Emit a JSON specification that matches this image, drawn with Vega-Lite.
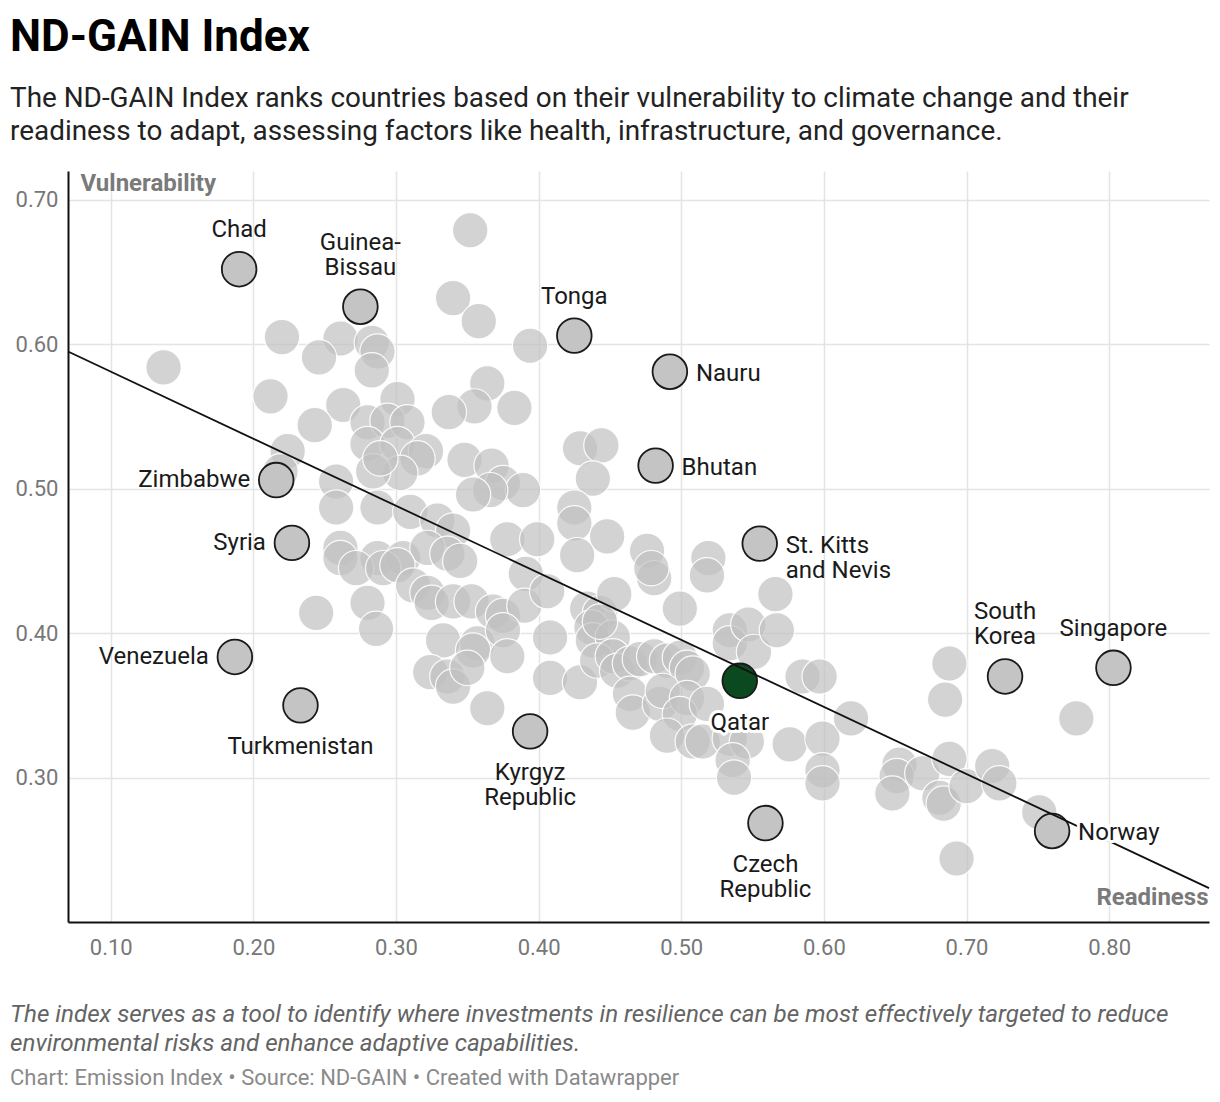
{
  "$schema": "https://vega.github.io/schema/vega-lite/v6.json",
  "padding": {"left": 10, "top": 15, "right": 10, "bottom": 5},
  "background": "white",
  "config": {
    "font": "Roboto",
    "view": {"stroke": null}
  },
  "title": {
    "text": "ND-GAIN Index",
    "subtitle": ["The ND-GAIN Index ranks countries based on their vulnerability to climate change and their", "readiness to adapt, assessing factors like health, infrastructure, and governance."],
    "anchor": "start",
    "font": "Roboto",
    "fontSize": 44,
    "fontWeight": "bold",
    "color": "#000000",
    "subtitleFont": "Roboto",
    "subtitleFontSize": 27.9,
    "subtitleColor": "#222222",
    "subtitleLineHeight": 33.5,
    "subtitlePadding": 25,
    "offset": 25
  },
  "datasets": {
    "points": [
      {"country": "Chad", "label": "Chad", "readiness": 0.190, "vulnerability": 0.652},
      {"country": "Guinea-Bissau", "label": "Guinea-|Bissau", "readiness": 0.275, "vulnerability": 0.626},
      {"country": "Tonga", "label": "Tonga", "readiness": 0.425, "vulnerability": 0.606},
      {"country": "Nauru", "label": "Nauru", "readiness": 0.492, "vulnerability": 0.581},
      {"country": "Bhutan", "label": "Bhutan", "readiness": 0.482, "vulnerability": 0.516},
      {"country": "Zimbabwe", "label": "Zimbabwe", "readiness": 0.216, "vulnerability": 0.506},
      {"country": "Syria", "label": "Syria", "readiness": 0.227, "vulnerability": 0.4625},
      {"country": "St. Kitts and Nevis", "label": "St. Kitts|and Nevis", "readiness": 0.555, "vulnerability": 0.462},
      {"country": "Venezuela", "label": "Venezuela", "readiness": 0.187, "vulnerability": 0.3835},
      {"country": "Turkmenistan", "label": "Turkmenistan", "readiness": 0.233, "vulnerability": 0.350},
      {"country": "Kyrgyz Republic", "label": "Kyrgyz|Republic", "readiness": 0.394, "vulnerability": 0.332},
      {"country": "Qatar", "label": "Qatar", "readiness": 0.541, "vulnerability": 0.367},
      {"country": "South Korea", "label": "South|Korea", "readiness": 0.727, "vulnerability": 0.370},
      {"country": "Singapore", "label": "Singapore", "readiness": 0.803, "vulnerability": 0.376},
      {"country": "Czech Republic", "label": "Czech|Republic", "readiness": 0.559, "vulnerability": 0.2685},
      {"country": "Norway", "label": "Norway", "readiness": 0.760, "vulnerability": 0.263},
      {"readiness": 0.137, "vulnerability": 0.584},
      {"readiness": 0.220, "vulnerability": 0.605},
      {"readiness": 0.261, "vulnerability": 0.604},
      {"readiness": 0.246, "vulnerability": 0.591},
      {"readiness": 0.283, "vulnerability": 0.601},
      {"readiness": 0.287, "vulnerability": 0.595},
      {"readiness": 0.283, "vulnerability": 0.582},
      {"readiness": 0.340, "vulnerability": 0.632},
      {"readiness": 0.352, "vulnerability": 0.679},
      {"readiness": 0.358, "vulnerability": 0.616},
      {"readiness": 0.394, "vulnerability": 0.599},
      {"readiness": 0.212, "vulnerability": 0.564},
      {"readiness": 0.364, "vulnerability": 0.573},
      {"readiness": 0.263, "vulnerability": 0.558},
      {"readiness": 0.301, "vulnerability": 0.562},
      {"readiness": 0.355, "vulnerability": 0.557},
      {"readiness": 0.337, "vulnerability": 0.553},
      {"readiness": 0.383, "vulnerability": 0.556},
      {"readiness": 0.243, "vulnerability": 0.544},
      {"readiness": 0.280, "vulnerability": 0.546},
      {"readiness": 0.294, "vulnerability": 0.547},
      {"readiness": 0.308, "vulnerability": 0.546},
      {"readiness": 0.280, "vulnerability": 0.531},
      {"readiness": 0.301, "vulnerability": 0.531},
      {"readiness": 0.321, "vulnerability": 0.526},
      {"readiness": 0.315, "vulnerability": 0.521},
      {"readiness": 0.224, "vulnerability": 0.526},
      {"readiness": 0.348, "vulnerability": 0.520},
      {"readiness": 0.367, "vulnerability": 0.516},
      {"readiness": 0.375, "vulnerability": 0.504},
      {"readiness": 0.389, "vulnerability": 0.499},
      {"readiness": 0.366, "vulnerability": 0.499},
      {"readiness": 0.354, "vulnerability": 0.496},
      {"readiness": 0.303, "vulnerability": 0.511},
      {"readiness": 0.284, "vulnerability": 0.512},
      {"readiness": 0.258, "vulnerability": 0.505},
      {"readiness": 0.429, "vulnerability": 0.528},
      {"readiness": 0.444, "vulnerability": 0.530},
      {"readiness": 0.438, "vulnerability": 0.507},
      {"readiness": 0.219, "vulnerability": 0.512},
      {"readiness": 0.289, "vulnerability": 0.521},
      {"readiness": 0.258, "vulnerability": 0.487},
      {"readiness": 0.287, "vulnerability": 0.487},
      {"readiness": 0.310, "vulnerability": 0.484},
      {"readiness": 0.329, "vulnerability": 0.478},
      {"readiness": 0.340, "vulnerability": 0.471},
      {"readiness": 0.378, "vulnerability": 0.465},
      {"readiness": 0.399, "vulnerability": 0.465},
      {"readiness": 0.261, "vulnerability": 0.459},
      {"readiness": 0.261, "vulnerability": 0.452},
      {"readiness": 0.287, "vulnerability": 0.452},
      {"readiness": 0.305, "vulnerability": 0.452},
      {"readiness": 0.322, "vulnerability": 0.459},
      {"readiness": 0.336, "vulnerability": 0.455},
      {"readiness": 0.345, "vulnerability": 0.450},
      {"readiness": 0.272, "vulnerability": 0.445},
      {"readiness": 0.291, "vulnerability": 0.445},
      {"readiness": 0.301, "vulnerability": 0.447},
      {"readiness": 0.425, "vulnerability": 0.487},
      {"readiness": 0.425, "vulnerability": 0.476},
      {"readiness": 0.448, "vulnerability": 0.467},
      {"readiness": 0.427, "vulnerability": 0.454},
      {"readiness": 0.476, "vulnerability": 0.457},
      {"readiness": 0.481, "vulnerability": 0.438},
      {"readiness": 0.519, "vulnerability": 0.452},
      {"readiness": 0.518, "vulnerability": 0.440},
      {"readiness": 0.391, "vulnerability": 0.441},
      {"readiness": 0.312, "vulnerability": 0.433},
      {"readiness": 0.280, "vulnerability": 0.421},
      {"readiness": 0.244, "vulnerability": 0.414},
      {"readiness": 0.286, "vulnerability": 0.403},
      {"readiness": 0.322, "vulnerability": 0.428},
      {"readiness": 0.325, "vulnerability": 0.421},
      {"readiness": 0.340, "vulnerability": 0.422},
      {"readiness": 0.353, "vulnerability": 0.422},
      {"readiness": 0.368, "vulnerability": 0.415},
      {"readiness": 0.375, "vulnerability": 0.412},
      {"readiness": 0.390, "vulnerability": 0.419},
      {"readiness": 0.406, "vulnerability": 0.429},
      {"readiness": 0.434, "vulnerability": 0.417},
      {"readiness": 0.443, "vulnerability": 0.414},
      {"readiness": 0.453, "vulnerability": 0.427},
      {"readiness": 0.479, "vulnerability": 0.445},
      {"readiness": 0.499, "vulnerability": 0.417},
      {"readiness": 0.333, "vulnerability": 0.395},
      {"readiness": 0.357, "vulnerability": 0.393},
      {"readiness": 0.375, "vulnerability": 0.402},
      {"readiness": 0.408, "vulnerability": 0.397},
      {"readiness": 0.437, "vulnerability": 0.404},
      {"readiness": 0.438, "vulnerability": 0.395},
      {"readiness": 0.452, "vulnerability": 0.397},
      {"readiness": 0.443, "vulnerability": 0.408},
      {"readiness": 0.354, "vulnerability": 0.388},
      {"readiness": 0.378, "vulnerability": 0.384},
      {"readiness": 0.324, "vulnerability": 0.373},
      {"readiness": 0.336, "vulnerability": 0.370},
      {"readiness": 0.340, "vulnerability": 0.363},
      {"readiness": 0.350, "vulnerability": 0.376},
      {"readiness": 0.408, "vulnerability": 0.369},
      {"readiness": 0.429, "vulnerability": 0.366},
      {"readiness": 0.441, "vulnerability": 0.381},
      {"readiness": 0.452, "vulnerability": 0.384},
      {"readiness": 0.455, "vulnerability": 0.374},
      {"readiness": 0.464, "vulnerability": 0.379},
      {"readiness": 0.471, "vulnerability": 0.382},
      {"readiness": 0.481, "vulnerability": 0.384},
      {"readiness": 0.490, "vulnerability": 0.381},
      {"readiness": 0.499, "vulnerability": 0.383},
      {"readiness": 0.504, "vulnerability": 0.376},
      {"readiness": 0.508, "vulnerability": 0.372},
      {"readiness": 0.464, "vulnerability": 0.358},
      {"readiness": 0.466, "vulnerability": 0.345},
      {"readiness": 0.485, "vulnerability": 0.351},
      {"readiness": 0.487, "vulnerability": 0.360},
      {"readiness": 0.504, "vulnerability": 0.355},
      {"readiness": 0.499, "vulnerability": 0.344},
      {"readiness": 0.518, "vulnerability": 0.351},
      {"readiness": 0.364, "vulnerability": 0.348},
      {"readiness": 0.534, "vulnerability": 0.402},
      {"readiness": 0.534, "vulnerability": 0.393},
      {"readiness": 0.547, "vulnerability": 0.406},
      {"readiness": 0.551, "vulnerability": 0.387},
      {"readiness": 0.566, "vulnerability": 0.427},
      {"readiness": 0.567, "vulnerability": 0.402},
      {"readiness": 0.490, "vulnerability": 0.329},
      {"readiness": 0.508, "vulnerability": 0.325},
      {"readiness": 0.515, "vulnerability": 0.325},
      {"readiness": 0.534, "vulnerability": 0.327},
      {"readiness": 0.546, "vulnerability": 0.325},
      {"readiness": 0.536, "vulnerability": 0.312},
      {"readiness": 0.537, "vulnerability": 0.300},
      {"readiness": 0.576, "vulnerability": 0.323},
      {"readiness": 0.599, "vulnerability": 0.327},
      {"readiness": 0.619, "vulnerability": 0.341},
      {"readiness": 0.599, "vulnerability": 0.305},
      {"readiness": 0.599, "vulnerability": 0.296},
      {"readiness": 0.585, "vulnerability": 0.370},
      {"readiness": 0.597, "vulnerability": 0.370},
      {"readiness": 0.688, "vulnerability": 0.379},
      {"readiness": 0.685, "vulnerability": 0.354},
      {"readiness": 0.777, "vulnerability": 0.341},
      {"readiness": 0.653, "vulnerability": 0.309},
      {"readiness": 0.651, "vulnerability": 0.301},
      {"readiness": 0.648, "vulnerability": 0.289},
      {"readiness": 0.669, "vulnerability": 0.303},
      {"readiness": 0.688, "vulnerability": 0.313},
      {"readiness": 0.681, "vulnerability": 0.286},
      {"readiness": 0.684, "vulnerability": 0.282},
      {"readiness": 0.700, "vulnerability": 0.294},
      {"readiness": 0.718, "vulnerability": 0.308},
      {"readiness": 0.723, "vulnerability": 0.296},
      {"readiness": 0.751, "vulnerability": 0.276},
      {"readiness": 0.693, "vulnerability": 0.244}
    ],
    "trend": [
      {"readiness": 0.07, "vulnerability": 0.595},
      {"readiness": 0.87, "vulnerability": 0.2235}
    ]
  },
  "vconcat": [
    {
      "width": 1141,
      "height": 751,
      "title": {
        "text": ["The index serves as a tool to identify where investments in resilience can be most effectively targeted to reduce", "environmental risks and enhance adaptive capabilities."],
        "subtitle": "Chart: Emission Index • Source: ND-GAIN • Created with Datawrapper",
        "orient": "bottom",
        "anchor": "start",
        "baseline": "top",
        "font": "Roboto",
        "fontSize": 24.2,
        "fontStyle": "italic",
        "fontWeight": "normal",
        "color": "#646464",
        "lineHeight": 28.5,
        "subtitleFont": "Roboto",
        "subtitleFontSize": 22,
        "subtitleColor": "#8a8a8a",
        "subtitlePadding": 12,
        "offset": 45
      },
      "data": {"name": "points"},
      "encoding": {
        "x": {
          "field": "readiness",
          "type": "quantitative",
          "scale": {"domain": [0.07, 0.87], "nice": false, "zero": false},
          "axis": {
            "values": [0.1, 0.2, 0.3, 0.4, 0.5, 0.6, 0.7, 0.8],
            "format": ".2f",
            "title": "Readiness",
            "titleX": 1140,
            "titleY": -25,
            "titleAlign": "right",
            "titleBaseline": "middle",
            "titleAngle": 0,
            "titleFont": "Roboto",
            "titleFontWeight": "bold",
            "titleFontSize": 24,
            "titleColor": "#7a7a7a",
            "labelFont": "Roboto",
            "labelFontSize": 22,
            "labelColor": "#777777",
            "labelPadding": 15,
            "ticks": false,
            "tickSize": 0,
            "domainColor": "#111111",
            "domainWidth": 2,
            "grid": true,
            "gridColor": "#e4e4e4",
            "gridWidth": 1.5
          }
        },
        "y": {
          "field": "vulnerability",
          "type": "quantitative",
          "scale": {"domain": [0.2, 0.72], "nice": false, "zero": false},
          "axis": {
            "values": [0.3, 0.4, 0.5, 0.6, 0.7],
            "format": ".2f",
            "title": "Vulnerability",
            "titleX": 12,
            "titleY": 12,
            "titleAlign": "left",
            "titleBaseline": "middle",
            "titleAngle": 0,
            "titleFont": "Roboto",
            "titleFontWeight": "bold",
            "titleFontSize": 24,
            "titleColor": "#7a7a7a",
            "labelFont": "Roboto",
            "labelFontSize": 22,
            "labelColor": "#777777",
            "labelPadding": 10,
            "ticks": false,
            "tickSize": 0,
            "domainColor": "#111111",
            "domainWidth": 2,
            "grid": true,
            "gridColor": "#e4e4e4",
            "gridWidth": 1.5,
            "minExtent": 58,
            "maxExtent": 58
          }
        }
      },
      "layer": [
        {
          "transform": [{"filter": "!datum.label"}],
          "mark": {"type": "circle", "size": 1250, "opacity": 1, "fill": "#c0c0c0", "fillOpacity": 0.7, "stroke": "#ffffff", "strokeWidth": 1.2, "strokeOpacity": 0.9}
        },
        {
          "transform": [{"filter": "datum.label && datum.country !== 'Qatar'"}],
          "mark": {"type": "circle", "size": 1200, "opacity": 1, "fill": "#c4c4c4", "fillOpacity": 1, "stroke": "#1a1a1a", "strokeWidth": 1.8}
        },
        {
          "transform": [{"filter": "datum.country === 'Qatar'"}],
          "mark": {"type": "circle", "size": 1200, "opacity": 1, "fill": "#0b4a1f", "fillOpacity": 1, "stroke": "#1a1a1a", "strokeWidth": 1.8}
        },
        {
          "data": {"name": "trend"},
          "mark": {"type": "line", "color": "#111111", "strokeWidth": 1.8},
          "encoding": {}
        },
        {
          "transform": [{"filter": {"field": "country", "oneOf": ["Chad", "Tonga", "Singapore"]}}],
          "mark": {"type": "text", "font": "Roboto", "fontSize": 24, "align": "center", "baseline": "alphabetic", "dy": -32, "color": "#1a1a1a"},
          "encoding": {"text": {"field": "label"}}
        },
        {
          "transform": [{"filter": {"field": "country", "oneOf": ["Guinea-Bissau", "South Korea"]}}],
          "mark": {"type": "text", "font": "Roboto", "fontSize": 24, "lineBreak": "|", "lineHeight": 25, "align": "center", "baseline": "alphabetic", "dy": -57, "color": "#1a1a1a"},
          "encoding": {"text": {"field": "label"}}
        },
        {
          "transform": [{"filter": {"field": "country", "oneOf": ["Qatar"]}}],
          "mark": {"type": "text", "font": "Roboto", "fontSize": 24, "align": "center", "baseline": "top", "dy": 30, "fill": "#ffffff", "stroke": "#ffffff", "strokeWidth": 6, "strokeJoin": "round"},
          "encoding": {"text": {"field": "label"}}
        },
        {
          "transform": [{"filter": {"field": "country", "oneOf": ["Turkmenistan", "Kyrgyz Republic", "Qatar", "Czech Republic"]}}],
          "mark": {"type": "text", "font": "Roboto", "fontSize": 24, "lineBreak": "|", "lineHeight": 25, "align": "center", "baseline": "top", "dy": 30, "color": "#1a1a1a"},
          "encoding": {"text": {"field": "label"}}
        },
        {
          "transform": [{"filter": {"field": "country", "oneOf": ["Zimbabwe", "Syria", "Venezuela"]}}],
          "mark": {"type": "text", "font": "Roboto", "fontSize": 24, "align": "right", "baseline": "middle", "dx": -26, "color": "#1a1a1a"},
          "encoding": {"text": {"field": "label"}}
        },
        {
          "transform": [{"filter": {"field": "country", "oneOf": ["Norway"]}}],
          "mark": {"type": "text", "font": "Roboto", "fontSize": 24, "align": "left", "baseline": "top", "dx": 26, "dy": -10, "fill": "#ffffff", "stroke": "#ffffff", "strokeWidth": 6, "strokeJoin": "round"},
          "encoding": {"text": {"field": "label"}}
        },
        {
          "transform": [{"filter": {"field": "country", "oneOf": ["Nauru", "Bhutan", "St. Kitts and Nevis", "Norway"]}}],
          "mark": {"type": "text", "font": "Roboto", "fontSize": 24, "lineBreak": "|", "lineHeight": 25, "align": "left", "baseline": "top", "dx": 26, "dy": -10, "color": "#1a1a1a"},
          "encoding": {"text": {"field": "label"}}
        }
      ]
    }
  ]
}
